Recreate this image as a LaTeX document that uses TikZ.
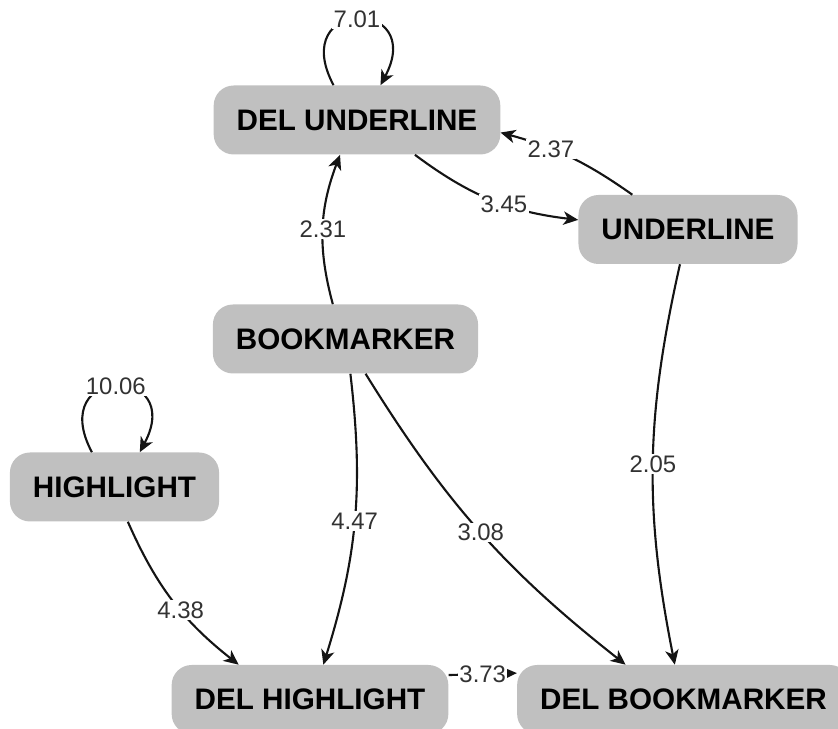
\documentclass[tikz,border=0pt]{standalone}
\usepackage{fontspec}
\setmainfont{Liberation Sans}
\usetikzlibrary{arrows.meta}
\definecolor{boxgray}{RGB}{192,192,192}
\definecolor{labelgray}{RGB}{50,50,50}
\definecolor{linegray}{RGB}{20,20,20}
\tikzset{
>={Stealth[length=10.5pt, width=9.5pt, inset=3pt]}, % tip of the connectors
every edge/.style={draw=linegray, line width=1.5pt, ->}, % the connectors are directed
action/.style={fill=boxgray, rounded corners=0.5cm, inner xsep=0.575cm, inner ysep=0pt, minimum height=1.725cm, font=\fontsize{21.1}{25}\selectfont\bfseries}, % the grey boxes
weight/.style={fill=white, text=labelgray, inner sep=1pt, font=\fontsize{17}{18}\selectfont}, % number written on a connector
selfloop/.style={out=118, in=62, min distance=2.5cm}, % loop back into the same box
}

\begin{document}
\begin{tikzpicture}
\useasboundingbox (0,0) rectangle (20.95,18.225);

\node[action] at (8.925,15.225) (delunderline) {DEL UNDERLINE};
\node[action] at (17.2,12.4875) (underline) {UNDERLINE};
\node[action] at (8.6375,9.75) (bookmarker) {BOOKMARKER};
\node[action] at (2.8625,6.05) (highlight) {HIGHLIGHT};
\node[action] at (7.75,0.7375) (delhighlight) {DEL HIGHLIGHT};
\node[action] at (17.0875,0.7375) (delbookmarker) {DEL BOOKMARKER};

\draw (delunderline.124) edge[selfloop] node[weight]{7.01} (delunderline.56);
\draw (underline.148) edge[bend right=10] node[weight, pos=0.65]{2.37} (delunderline.355);
\draw (delunderline.329) edge[bend right=15] node[weight, pos=0.58]{3.45} (underline.175);
\draw (bookmarker.110) edge[bend left=18] node[weight]{2.31} (delunderline.244);
\draw (bookmarker.278) edge[bend left=12] node[weight]{4.47} (delhighlight.69);
\draw (bookmarker.300) edge[bend right=10] node[weight]{3.08} (delbookmarker.149);
\draw (underline.257) edge[bend right=12] node[weight]{2.05} (delbookmarker.104);

\draw (highlight.123) edge[selfloop] node[weight]{10.06} (highlight.54);
\draw (highlight.291) edge[bend right=14] node[weight, pos=0.57]{4.38} (delhighlight.154);
\draw (delhighlight.10) edge node[weight]{3.73} (delbookmarker.171);

\end{tikzpicture}
\end{document}
